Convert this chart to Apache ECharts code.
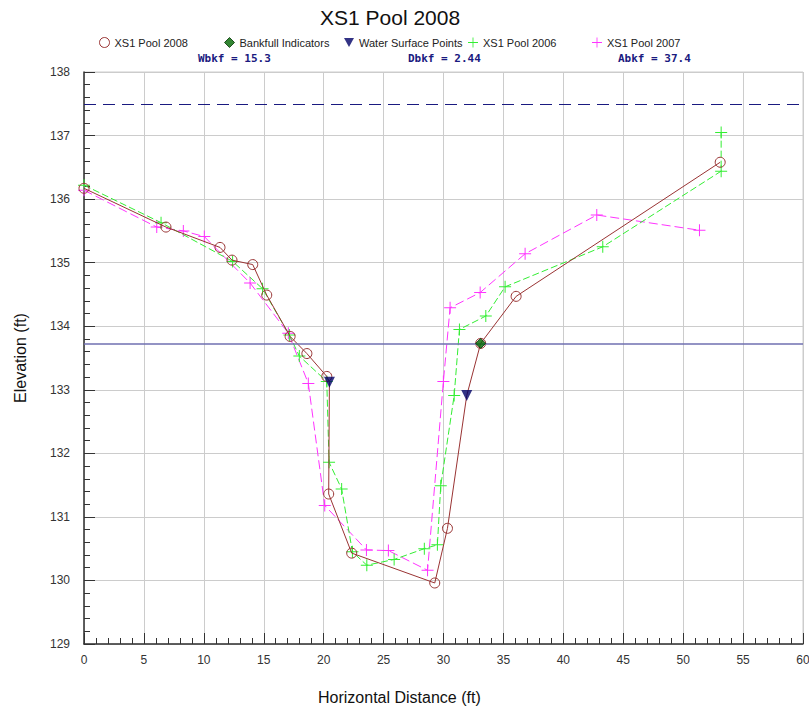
<!DOCTYPE html>
<html>
  <head>
    <meta charset="utf-8">
    <title>XS1 Pool 2008</title>
    <script src="https://cdn.jsdelivr.net/npm/echarts@6/dist/echarts.min.js"></script>
    <style>
      html, body { margin: 0; padding: 0; background: #fff; overflow: hidden; }
    </style>
  </head>
  <body>
    <div id="chart" style="width: 809px; height: 715px;"></div>
    <script type="text/javascript">
      // survey points (ft)
      var xs2008X = [0, 6.84, 11.35, 12.35, 14.08, 15.25, 17.2, 18.6, 20.26, 20.48, 20.42, 22.34, 29.27, 30.33, 31.94, 33.1, 36.06, 53.09];
      var xs2008Y = [136.17, 135.56, 135.24, 135.04, 134.97, 134.49, 133.84, 133.57, 133.21, 133.12, 131.36, 130.43, 129.96, 130.82, 132.91, 133.73, 134.47, 136.58];

      var xs2006X = [0, 6.43, 12.4, 14.9, 17.14, 17.97, 20.26, 20.45, 21.5, 22.4, 23.6, 25.88, 28.4, 29.49, 29.77, 30.89, 31.33, 33.53, 35.14, 43.29, 53.17, 53.17];
      var xs2006Y = [136.22, 135.63, 135.02, 134.59, 133.86, 133.53, 133.13, 131.86, 131.44, 130.45, 130.24, 130.33, 130.5, 130.56, 131.49, 132.91, 133.95, 134.16, 134.62, 135.25, 136.44, 137.05];

      var xs2007X = [0, 6.07, 8.29, 10.04, 13.86, 17.05, 18.72, 20.09, 23.57, 25.4, 28.67, 29.99, 30.55, 33.06, 36.81, 42.79, 51.36];
      var xs2007Y = [136.14, 135.56, 135.5, 135.41, 134.68, 133.89, 133.1, 131.18, 130.48, 130.47, 130.16, 133.13, 134.29, 134.53, 135.14, 135.75, 135.51];

      var waterX = [20.48, 31.94];
      var waterY = [133.12, 132.91];
      var bankfullX = [33.1];
      var bankfullY = [133.73];

      var bankfullElev = 133.73;
      var floodproneElev = 137.5;

      var statNames = ["Wbkf", "Dbkf", "Abkf"];
      var statValues = ["15.3", "2.44", "37.4"];

      var seriesNames = ["XS1 Pool 2008", "Bankfull Indicators", "Water Surface Points", "XS1 Pool 2006", "XS1 Pool 2007"];

      var C2008 = "#993333", C2006 = "#33ee33", C2007 = "#ff33ff";
      var CWATER = "#000066", CBKF = "#006600", CNAVY = "#1a1a80";
      // filled thin plus, so the marker takes the series colour as fill
      var CROSS = "path://M5.5,0 L6.5,0 L6.5,5.5 L12,5.5 L12,6.5 L6.5,6.5 L6.5,12 L5.5,12 L5.5,6.5 L0,6.5 L0,5.5 L5.5,5.5 Z";
      var DOWN = "path://M0,0 L10,0 L5,9 Z";

      function pairs(xs, ys) {
        return xs.map(function (x, i) { return [x, ys[i]]; });
      }

      // no circle where the 2008 line passes a water surface point
      var data2008 = pairs(xs2008X, xs2008Y).map(function (p) {
        var isWater = waterX.some(function (wx, i) { return wx === p[0] && waterY[i] === p[1]; });
        return isWater ? { value: p, symbol: "none" } : { value: p };
      });

      // svg renderer: canvas drew some of the thin crosses dark
      var chart = echarts.init(document.getElementById("chart"), null, { renderer: "svg" });

      var legendLeft = [94, 219, 339, 463, 587];
      var legendIcons = [
        { icon: "circle", itemStyle: { color: "rgba(0,0,0,0)", borderColor: C2008, borderWidth: 1 } },
        { icon: "diamond", itemStyle: { color: CBKF, borderColor: "#003300", borderWidth: 1 } },
        { icon: DOWN, itemStyle: { color: CWATER, borderWidth: 0 } },
        { icon: CROSS, itemStyle: { color: C2006, borderWidth: 0 } },
        { icon: CROSS, itemStyle: { color: C2007, borderWidth: 0 } },
      ];
      var legends = seriesNames.map(function (name, i) {
        return {
          left: legendLeft[i],
          top: 32,
          itemWidth: 10,
          itemHeight: 10,
          itemGap: 0,
          selectedMode: false,
          textStyle: { fontFamily: "Liberation Sans", fontSize: 11, color: "#222" },
          data: [{
            name: name,
            icon: legendIcons[i].icon,
            itemStyle: legendIcons[i].itemStyle,
            lineStyle: { width: 0 },
          }],
        };
      });

      var statLeft = [193, 403, 613];
      var titles = [
        {
          text: "XS1 Pool 2008",
          left: 315,
          top: 2,
          textStyle: { fontFamily: "Liberation Sans", fontSize: 21, fontWeight: "normal", color: "#111" },
        },
        {
          text: "Horizontal Distance (ft)",
          left: 313,
          top: 684,
          textStyle: { fontFamily: "Liberation Sans", fontSize: 16, fontWeight: "normal", color: "#111" },
        },
      ].concat(statNames.map(function (s, i) {
        return {
          text: s + " = " + statValues[i],
          left: statLeft[i],
          top: 48,
          textStyle: { fontFamily: "DejaVu Sans Mono", fontSize: 11, fontWeight: "bold", color: CNAVY },
        };
      }));

      var option = {
        animation: false,
        backgroundColor: "#fff",
        title: titles,
        legend: legends,
        grid: {
          left: 84, right: 6, top: 72, bottom: 71,
          outerBoundsMode: "none",
          show: true, borderColor: "#cccccc", borderWidth: 1,
        },
        xAxis: {
          type: "value",
          min: 0,
          max: 60,
          interval: 5,
          axisLine: { show: true, onZero: false, lineStyle: { color: "#333", width: 1.5 } },
          axisTick: { show: true, inside: true, length: 11, lineStyle: { color: "#333" } },
          minorTick: { show: true, splitNumber: 5, length: 6, lineStyle: { color: "#333" } },
          axisLabel: { margin: 10, fontFamily: "Liberation Sans", fontSize: 12, color: "#333" },
          splitLine: { show: true, lineStyle: { color: "#cccccc", width: 1 } },
        },
        yAxis: {
          type: "value",
          min: 129,
          max: 138,
          interval: 1,
          name: "Elevation (ft)",
          nameLocation: "middle",
          nameRotate: 90,
          nameGap: 56,
          nameTextStyle: { fontFamily: "Liberation Sans", fontSize: 16, color: "#111" },
          axisLine: { show: true, onZero: false, lineStyle: { color: "#333", width: 1.5 } },
          axisTick: { show: true, inside: true, length: 11, lineStyle: { color: "#333" } },
          minorTick: { show: true, splitNumber: 5, length: 6, lineStyle: { color: "#333" } },
          axisLabel: { margin: 14, fontFamily: "Liberation Sans", fontSize: 12, color: "#333" },
          splitLine: { show: true, lineStyle: { color: "#cccccc", width: 1 } },
        },
        series: [
          {
            name: "XS1 Pool 2007",
            type: "line",
            data: pairs(xs2007X, xs2007Y),
            symbol: CROSS,
            symbolSize: 12,
            itemStyle: { color: C2007, borderWidth: 0 },
            lineStyle: { color: C2007, width: 1, type: [9, 4] },
            z: 2,
          },
          {
            name: "XS1 Pool 2006",
            type: "line",
            data: pairs(xs2006X, xs2006Y),
            symbol: CROSS,
            symbolSize: 12,
            itemStyle: { color: C2006, borderWidth: 0 },
            lineStyle: { color: C2006, width: 1, type: [7, 3] },
            z: 3,
          },
          {
            name: "XS1 Pool 2008",
            type: "line",
            data: data2008,
            symbol: "circle",
            symbolSize: 10,
            itemStyle: { color: "rgba(0,0,0,0)", borderColor: C2008, borderWidth: 1 },
            lineStyle: { color: C2008, width: 1 },
            z: 4,
          },
          {
            name: "Water Surface Points",
            type: "scatter",
            data: pairs(waterX, waterY),
            symbol: DOWN,
            symbolSize: 11,
            itemStyle: { color: CWATER },
            z: 5,
          },
          {
            name: "Bankfull Indicators",
            type: "scatter",
            data: pairs(bankfullX, bankfullY),
            symbol: "diamond",
            symbolSize: 10,
            itemStyle: { color: CBKF, borderColor: "#003300", borderWidth: 1 },
            z: 6,
            markLine: {
              silent: true,
              symbol: "none",
              label: { show: false },
              data: [
                { yAxis: bankfullElev, lineStyle: { color: "#6f6fb0", width: 1.5, type: "solid" } },
                { yAxis: floodproneElev, lineStyle: { color: CNAVY, width: 1, type: [12, 7] } },
              ],
            },
          },
        ],
      };

      chart.setOption(option);
    </script>
  </body>
</html>
